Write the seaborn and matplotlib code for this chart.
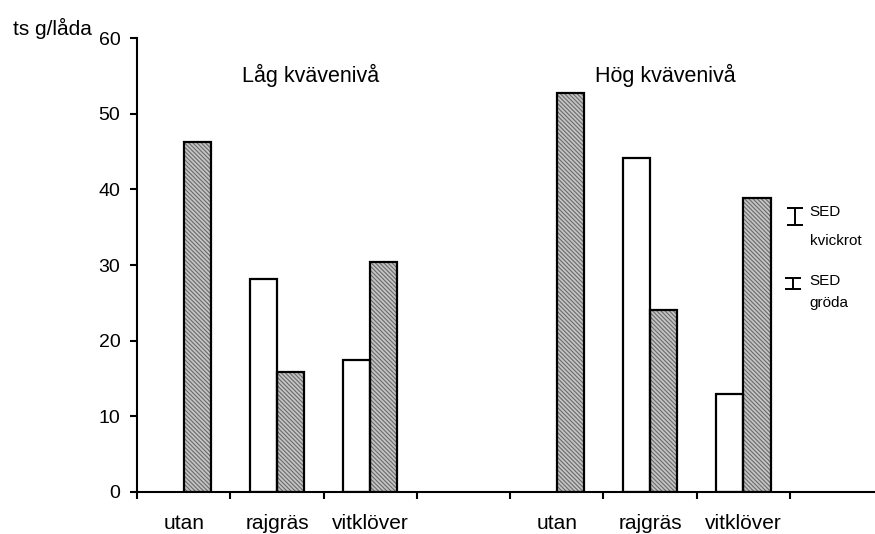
import numpy as np
import pandas as pd
import matplotlib
matplotlib.use("Agg")
import matplotlib.pyplot as plt
import seaborn as sns

# ---- data ----
slots = ["L-utan", "L-rajgräs", "L-vitklöver", "gap", "H-utan", "H-rajgräs", "H-vitklöver"]
slot_labels = ["utan", "rajgräs", "vitklöver", "", "utan", "rajgräs", "vitklöver"]
open_vals = [np.nan, 28.1, 17.4, np.nan, np.nan, 44.2, 13.0]
hatch_vals = [46.2, 15.8, 30.4, np.nan, 52.7, 24.0, 38.8]
kinds = ["gröda", "kvickrot"]
group_titles = ["Låg kvävenivå", "Hög kvävenivå"]
sed_kvickrot = (35.3, 37.5)
sed_groda = (26.8, 28.3)
y_label = "ts g/låda"

df = pd.DataFrame({
    "slot": slots * 2,
    "kind": [kinds[0]] * len(slots) + [kinds[1]] * len(slots),
    "value": open_vals + hatch_vals,
})

sns.set_theme(style="white")
plt.rcParams["font.family"] = ["Liberation Sans", "DejaVu Sans"]
plt.rcParams["text.color"] = "black"
plt.rcParams["xtick.color"] = "black"
plt.rcParams["ytick.color"] = "black"
plt.rcParams["hatch.linewidth"] = 0.8

fig = plt.figure(figsize=(8.75, 5.34), dpi=100)
ax = fig.add_axes([137 / 875, 1 - 492 / 534, 1 - 137 / 875, (492 - 38) / 534])

# filled / hatched layer
sns.barplot(data=df, x="slot", y="value", hue="kind", order=slots, hue_order=kinds,
            palette=["white", "#c4c4c4"], width=0.58, errorbar=None, legend=False,
            linewidth=0, ax=ax)
for p in ax.containers[1]:
    p.set_hatch("\\\\\\\\\\\\\\\\")
    p.set_edgecolor("#6a6a6a")
    p.set_linewidth(0)
n_before = len(ax.patches)
# outline layer
sns.barplot(data=df, x="slot", y="value", hue="kind", order=slots, hue_order=kinds,
            palette=["black", "black"], fill=False, width=0.58, errorbar=None,
            legend=False, linewidth=1.6, ax=ax)
for p in ax.patches[n_before:]:
    p.set_edgecolor("black")
    p.set_facecolor("none")
    p.set_linewidth(1.6)

ax.set_ylim(0, 60)
ax.set_xlim(-0.5, 7.41)
ax.set_yticks(range(0, 61, 10))
ax.set_xticks(np.arange(-0.5, 7, 1.0))
ax.set_xticklabels([])
ax.set_xticks(np.arange(len(slots)), minor=True)
ax.set_xticklabels(slot_labels, minor=True)
ax.tick_params(axis="x", which="major", direction="out", length=5, width=1.5, color="black", bottom=True)
ax.tick_params(axis="x", which="minor", length=0, pad=16, labelsize=15, labelcolor="black")
ax.tick_params(axis="y", direction="out", length=5, width=1.5, color="black", left=True, pad=7,
               labelsize=14, labelcolor="black")
ax.set_xlabel("")
ax.set_ylabel("")
for s in ["top", "right"]:
    ax.spines[s].set_visible(False)
for s in ["left", "bottom"]:
    ax.spines[s].set_color("black")
    ax.spines[s].set_linewidth(1.5)

ax.text(1.365, 55.1, group_titles[0], ha="center", va="center", fontsize=15.5)
ax.text(5.16, 55.1, group_titles[1], ha="center", va="center", fontsize=15.5)

# SED indicators
for (lo, hi), xpos in [(sed_kvickrot, 6.55), (sed_groda, 6.53)]:
    mid = (lo + hi) / 2
    ax.errorbar([xpos], [mid], yerr=[[mid - lo], [hi - mid]], fmt="none",
                ecolor="black", elinewidth=1.4, capsize=6, capthick=1.4)
ax.text(6.71, 37.0, "SED", ha="left", va="center", fontsize=11)
ax.text(6.71, 33.2, "kvickrot", ha="left", va="center", fontsize=11)
ax.text(6.71, 27.9, "SED", ha="left", va="center", fontsize=11)
ax.text(6.71, 25.0, "gröda", ha="left", va="center", fontsize=11)

fig.text(13 / 875, 1 - 28 / 534, y_label, ha="left", va="center", fontsize=15)

fig.savefig("out.png", dpi=100)
